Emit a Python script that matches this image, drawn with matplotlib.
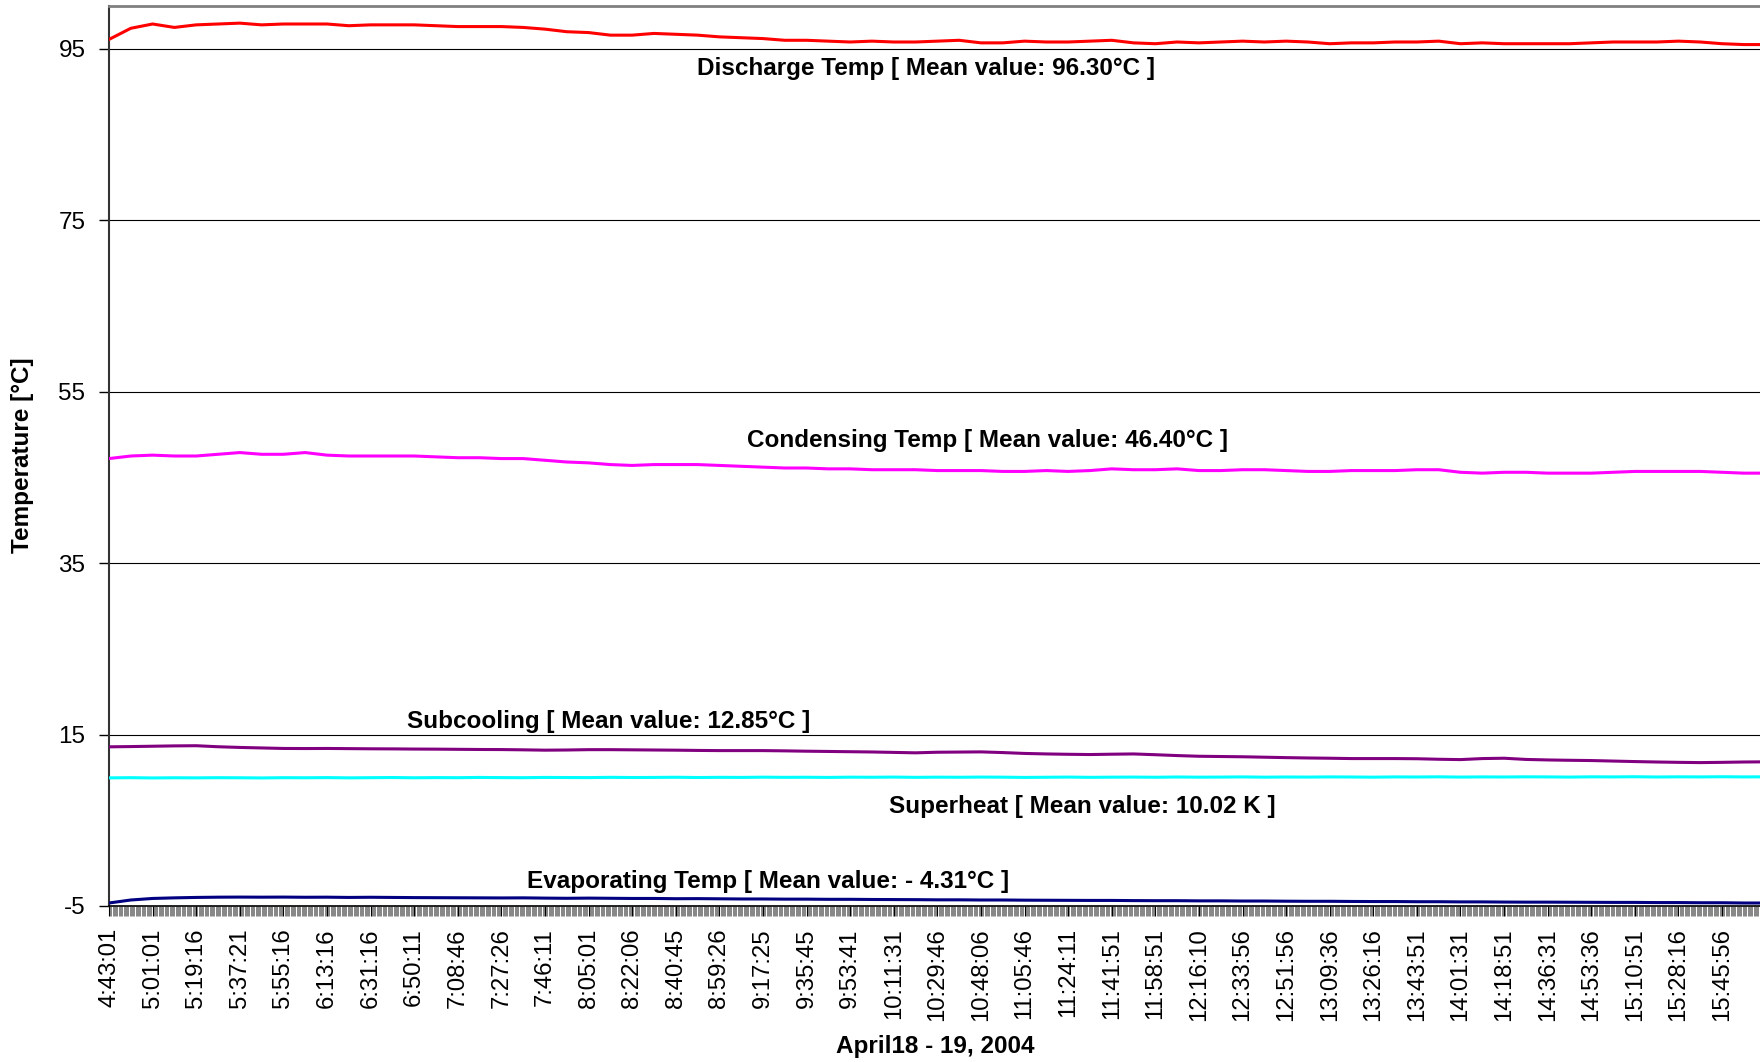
import numpy as np
import matplotlib
matplotlib.use("Agg")
import matplotlib.pyplot as plt
from matplotlib.ticker import MultipleLocator

plt.rcParams['font.family'] = ['Liberation Sans', 'DejaVu Sans']
plt.rcParams['axes.unicode_minus'] = False

### Donnees (valeurs lues tous les demi-intervalles d'etiquette)

heures = ["4:43:01", "5:01:01", "5:19:16", "5:37:21", "5:55:16", "6:13:16", "6:31:16",
          "6:50:11", "7:08:46", "7:27:26", "7:46:11", "8:05:01", "8:22:06", "8:40:45",
          "8:59:26", "9:17:25", "9:35:45", "9:53:41", "10:11:31", "10:29:46", "10:48:06",
          "11:05:46", "11:24:11", "11:41:51", "11:58:51", "12:16:10", "12:33:56", "12:51:56",
          "13:09:36", "13:26:16", "13:43:51", "14:01:31", "14:18:51", "14:36:31", "14:53:36",
          "15:10:51", "15:28:16", "15:45:56"]

discharge = [96.1, 97.4, 97.9, 97.5, 97.8, 97.9, 98.0, 97.8, 97.9, 97.9,
             97.9, 97.7, 97.8, 97.8, 97.8, 97.7, 97.6, 97.6, 97.6, 97.5,
             97.3, 97.0, 96.9, 96.6, 96.6, 96.8, 96.7, 96.6, 96.4, 96.3,
             96.2, 96.0, 96.0, 95.9, 95.8, 95.9, 95.8, 95.8, 95.9, 96.0,
             95.7, 95.7, 95.9, 95.8, 95.8, 95.9, 96.0, 95.7, 95.6, 95.8,
             95.7, 95.8, 95.9, 95.8, 95.9, 95.8, 95.6, 95.7, 95.7, 95.8,
             95.8, 95.9, 95.6, 95.7, 95.6, 95.6, 95.6, 95.6, 95.7, 95.8,
             95.8, 95.8, 95.9, 95.8, 95.6, 95.5, 95.5]

condensing = [47.2, 47.5, 47.6, 47.5, 47.5, 47.7, 47.9, 47.7, 47.7, 47.9,
              47.6, 47.5, 47.5, 47.5, 47.5, 47.4, 47.3, 47.3, 47.2, 47.2,
              47.0, 46.8, 46.7, 46.5, 46.4, 46.5, 46.5, 46.5, 46.4, 46.3,
              46.2, 46.1, 46.1, 46.0, 46.0, 45.9, 45.9, 45.9, 45.8, 45.8,
              45.8, 45.7, 45.7, 45.8, 45.7, 45.8, 46.0, 45.9, 45.9, 46.0,
              45.8, 45.8, 45.9, 45.9, 45.8, 45.7, 45.7, 45.8, 45.8, 45.8,
              45.9, 45.9, 45.6, 45.5, 45.6, 45.6, 45.5, 45.5, 45.5, 45.6,
              45.7, 45.7, 45.7, 45.7, 45.6, 45.5, 45.5]

subcooling = [13.57, 13.60, 13.64, 13.68, 13.70, 13.58, 13.50, 13.44, 13.38, 13.37,
              13.38, 13.36, 13.34, 13.33, 13.31, 13.30, 13.28, 13.26, 13.25, 13.22,
              13.18, 13.20, 13.24, 13.24, 13.22, 13.20, 13.18, 13.15, 13.13, 13.13,
              13.13, 13.10, 13.06, 13.03, 13.00, 12.97, 12.92, 12.87, 12.94, 12.96,
              12.98, 12.90, 12.80, 12.74, 12.70, 12.67, 12.71, 12.74, 12.65, 12.55,
              12.47, 12.44, 12.41, 12.36, 12.31, 12.27, 12.24, 12.20, 12.20, 12.20,
              12.18, 12.12, 12.08, 12.20, 12.24, 12.10, 12.04, 12.00, 11.97, 11.91,
              11.85, 11.80, 11.76, 11.73, 11.76, 11.80, 11.82]

superheat = [9.95, 9.97, 9.94, 9.96, 9.95, 9.97, 9.96, 9.94, 9.97, 9.96,
             9.98, 9.95, 9.97, 9.99, 9.96, 9.98, 9.97, 10.00, 9.98, 9.97,
             10.00, 9.99, 9.98, 10.01, 9.99, 10.00, 10.02, 9.99, 10.01, 10.00,
             10.03, 10.01, 10.02, 10.00, 10.03, 10.02, 10.04, 10.01, 10.03, 10.02,
             10.04, 10.03, 10.00, 10.02, 10.04, 10.01, 10.03, 10.04, 10.02, 10.05,
             10.03, 10.04, 10.06, 10.03, 10.05, 10.04, 10.06, 10.05, 10.03, 10.06,
             10.05, 10.07, 10.04, 10.06, 10.05, 10.07, 10.06, 10.04, 10.07, 10.06,
             10.08, 10.05, 10.07, 10.06, 10.08, 10.06, 10.07]

evaporating = [-4.65, -4.30, -4.12, -4.05, -4.00, -3.97, -3.96, -3.97, -3.96, -3.98,
               -3.97, -4.00, -3.98, -4.00, -4.02, -4.03, -4.04, -4.05, -4.06, -4.05,
               -4.08, -4.10, -4.08, -4.10, -4.12, -4.12, -4.15, -4.14, -4.16, -4.18,
               -4.18, -4.20, -4.20, -4.22, -4.22, -4.24, -4.25, -4.26, -4.28, -4.28,
               -4.30, -4.30, -4.32, -4.33, -4.34, -4.35, -4.35, -4.37, -4.38, -4.38,
               -4.40, -4.40, -4.42, -4.42, -4.44, -4.45, -4.45, -4.47, -4.48, -4.48,
               -4.50, -4.50, -4.52, -4.52, -4.54, -4.55, -4.55, -4.56, -4.57, -4.58,
               -4.58, -4.60, -4.60, -4.62, -4.62, -4.65, -4.65]

pas_etiquette = 36              # categories entre deux etiquettes
pas_donnee = pas_etiquette // 2
x_max = 37.87 * pas_etiquette


### Figure

fig = plt.figure(figsize=(17.6, 10.62), dpi=100)
ax = fig.add_axes([109/1760, 1 - 906/1062, 1 - 109/1760, 900/1062])

series = [(discharge, "#FF0000"), (condensing, "#FF00FF"), (subcooling, "#800080"),
          (superheat, "#00FFFF"), (evaporating, "#000080")]
for vals, col in series:
    x = np.arange(len(vals)) * pas_donnee
    ax.plot(x, vals, color=col, lw=2.2, solid_joinstyle="round", zorder=3)

ax.set_xlim(0, x_max)
ax.set_ylim(-5, 100)
ax.set_yticks([-5, 15, 35, 55, 75, 95])
ax.yaxis.grid(True, color="black", lw=0.8)
ax.set_axisbelow(True)

ax.set_xticks(np.arange(len(heures)) * pas_etiquette)
ax.set_xticklabels(heures, rotation=90, fontsize=17.2)
ax.xaxis.set_minor_locator(MultipleLocator(1))
ax.tick_params(axis="x", which="major", length=7, width=0.8, pad=9)
ax.tick_params(axis="x", which="minor", length=7, width=0.5, color="#555555")
ax.tick_params(axis="y", length=7, width=1, pad=10, labelsize=17.5)

ax.spines["right"].set_visible(False)
ax.spines["top"].set_color("#808080")
ax.spines["top"].set_linewidth(2)
ax.spines["left"].set_color("#333333")
ax.spines["left"].set_linewidth(1.5)
ax.spines["bottom"].set_linewidth(1.2)

# Annotations
fs = 17.5
ax.text(18.75 * pas_etiquette, 92.67, "Discharge Temp [ Mean value: 96.30°C ]",
        ha="center", va="center", fontsize=fs, fontweight="bold")
ax.text(20.14 * pas_etiquette, 49.34, "Condensing Temp [ Mean value: 46.40°C ]",
        ha="center", va="center", fontsize=fs, fontweight="bold")
ax.text(11.47 * pas_etiquette, 16.55, "Subcooling [ Mean value: 12.85°C ]",
        ha="center", va="center", fontsize=fs, fontweight="bold")
ax.text(22.33 * pas_etiquette, 6.6, "Superheat [ Mean value: 10.02 K ]",
        ha="center", va="center", fontsize=fs, fontweight="bold")
ax.text(15.12 * pas_etiquette, -2.1, "Evaporating Temp [ Mean value: - 4.31°C ]",
        ha="center", va="center", fontsize=fs, fontweight="bold")

fig.text(22.5/1760, 1 - 455/1062, "Temperature [°C]", rotation=90,
         ha="center", va="center", fontsize=fs, fontweight="bold")
fig.text(935/1760, 1 - 1046/1062, "April18 - 19, 2004",
         ha="center", va="center", fontsize=fs, fontweight="bold")

fig.savefig("out.png", dpi=100)
